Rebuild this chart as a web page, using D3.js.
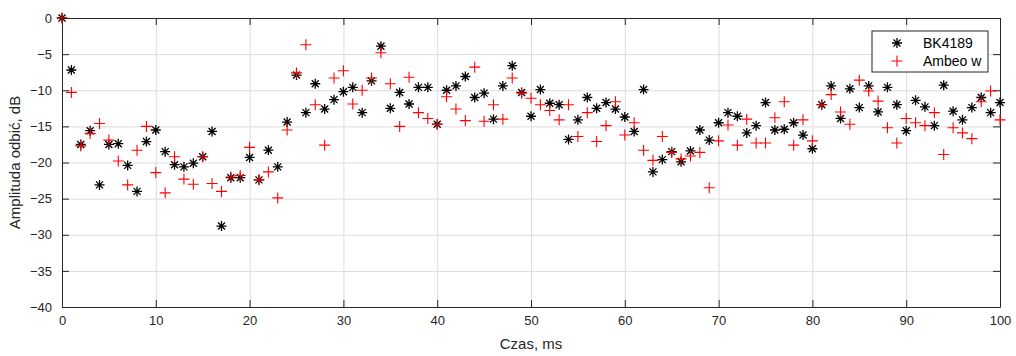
<!DOCTYPE html>
<meta charset="utf-8">
<html>
  <head>
    <title>amplituda odbic</title>
    <style>
      body { margin: 0; background: #fff; }
      .grid line { stroke: #dcdcdc; stroke-width: 1px; }
      .grid path { display: none; }
      .axis text { font: 13px "Liberation Sans", Arial, sans-serif; fill: #262626; }
      .axis path, .axis line { stroke: #262626; }
      .label { font: 15px "Liberation Sans", Arial, sans-serif; fill: #262626; }
      .legend text { font: 14px "Liberation Sans", Arial, sans-serif; fill: #000; }
    </style>
  </head>
  <body>
    <script src="https://d3js.org/d3.v7.min.js"></script>
    <script>

      // czas, ms
      var czas = d3.range(0, 101);

      var bk4189 = [0, -7.2, -17.5, -15.6, -23.1, -17.5, -17.4, -20.4, -24.0, -17.1,
        -15.5, -18.5, -20.3, -20.6, -20.1, -19.2, -15.7, -28.8, -22.1, -22.1,
        -19.3, -22.4, -18.3, -20.6, -14.4, -7.9, -13.1, -9.1, -12.6, -11.3,
        -10.2, -9.6, -13.1, -8.7, -3.9, -12.5, -10.3, -11.9, -9.6, -9.6,
        -14.7, -10.0, -9.4, -8.1, -11.0, -10.4, -14.0, -9.4, -6.6, -10.3,
        -13.6, -9.9, -11.8, -12.0, -16.8, -14.1, -11.0, -12.5, -11.7, -12.6,
        -13.7, -15.7, -9.9, -21.3, -19.6, -18.5, -19.9, -18.4, -15.5, -16.9,
        -14.5, -13.1, -13.6, -15.9, -14.9, -11.7, -15.5, -15.4, -14.5, -16.2,
        -18.1, -12.0, -9.4, -13.9, -9.8, -12.4, -9.4, -13.0, -9.6, -12.0,
        -15.6, -11.4, -12.3, -14.9, -9.3, -12.9, -14.1, -12.4, -11.0, -13.1,
        -11.7];

      var ambeo = [0, -10.3, -17.7, -16.0, -14.6, -16.9, -19.8, -23.1, -18.3, -15.0,
        -21.4, -24.2, -19.2, -22.3, -23.0, -19.2, -22.9, -24.0, -22.0, -21.8,
        -17.9, -22.4, -21.3, -24.9, -15.5, -7.6, -3.7, -12.0, -17.6, -8.3,
        -7.3, -11.9, -10.0, -8.3, -4.8, -9.1, -15.0, -8.2, -13.1, -13.9,
        -14.7, -10.9, -12.6, -14.2, -6.8, -14.3, -12.0, -14.0, -8.3, -10.4,
        -11.1, -12.0, -12.8, -14.1, -12.0, -16.4, -13.1, -17.1, -14.9, -11.6,
        -16.2, -14.5, -18.3, -19.7, -16.4, -18.6, -19.5, -19.1, -18.6, -23.5,
        -17.0, -14.8, -17.6, -14.0, -17.3, -17.3, -13.8, -11.6, -17.6, -14.1,
        -17.0, -12.0, -10.6, -13.0, -14.7, -8.6, -10.1, -11.5, -15.2, -17.3,
        -13.9, -14.5, -14.9, -13.1, -18.9, -15.2, -15.9, -16.7, -11.6, -10.1,
        -14.1];

      var seriesNames = ["BK4189", "Ambeo w"];
      var xTicks = d3.range(0, 101, 10);
      var yTicks = d3.range(-40, 1, 5);

      var margin = {top: 18, right: 16, bottom: 49, left: 62}
        , width = 1016 - margin.left - margin.right
        , height = 356 - margin.top - margin.bottom;

      var x = d3.scaleLinear().domain([0, 100]).range([0, width]);
      var y = d3.scaleLinear().domain([-40, 0]).range([height, 0]);

      var svg = d3.select("body").append("svg")
          .attr("width", 1016)
          .attr("height", 356)
        .append("g")
          .attr("transform", "translate(" + margin.left + "," + margin.top + ")");

      // siatka
      svg.append("g")
          .attr("class", "grid")
          .attr("transform", "translate(0," + height + ")")
          .call(d3.axisBottom(x).tickValues(xTicks).tickSize(-height).tickFormat(""));

      svg.append("g")
          .attr("class", "grid")
          .call(d3.axisLeft(y).tickValues(yTicks).tickSize(-width).tickFormat(""));

      // osie z ticks do wewnatrz
      svg.append("g")
          .attr("class", "axis")
          .attr("transform", "translate(0," + height + ")")
          .call(d3.axisBottom(x).tickValues(xTicks).tickSizeInner(-7).tickSizeOuter(0).tickPadding(9));

      svg.append("g")
          .attr("class", "axis")
          .call(d3.axisLeft(y).tickValues(yTicks).tickSizeInner(-7).tickSizeOuter(0).tickPadding(10));

      svg.append("g")
          .attr("class", "axis")
          .call(d3.axisTop(x).tickValues(xTicks).tickSizeInner(-7).tickSizeOuter(0).tickFormat(""));

      svg.append("g")
          .attr("class", "axis")
          .attr("transform", "translate(" + width + ",0)")
          .call(d3.axisRight(y).tickValues(yTicks).tickSizeInner(-7).tickSizeOuter(0).tickFormat(""));

      // gwiazdka jak w MATLAB: plus i x nalozone
      var star = "M-5,0H5M0,-5V5M-3.5,-3.5L3.5,3.5M-3.5,3.5L3.5,-3.5";
      var cross = d3.symbol().type(d3.symbolPlus).size(90);
      var plus = "M-5.5,0H5.5M0,-5.5V5.5";

      svg.selectAll(".bk")
          .data(czas)
        .enter().append("path")
          .attr("class", "bk")
          .attr("d", star)
          .attr("transform", function(d, i) { return "translate(" + x(d) + "," + y(bk4189[i]) + ")"; })
          .style("fill", "none")
          .style("stroke", "black")
          .style("stroke-width", 1.3);

      svg.selectAll(".am")
          .data(czas)
        .enter().append("path")
          .attr("class", "am")
          .attr("d", plus)
          .attr("transform", function(d, i) { return "translate(" + x(d) + "," + y(ambeo[i]) + ")"; })
          .style("fill", "none")
          .style("stroke", "red")
          .style("stroke-width", 1.1);

      // opisy osi
      svg.append("text")
          .attr("class", "label")
          .attr("text-anchor", "middle")
          .attr("x", width / 2)
          .attr("y", height + 42)
          .text("Czas, ms");

      svg.append("text")
          .attr("class", "label")
          .attr("text-anchor", "middle")
          .attr("transform", "translate(-42," + (height / 2) + ") rotate(-90)")
          .text("Amplituda odbić, dB");

      // legenda
      var legend = svg.append("g")
          .attr("class", "legend")
          .attr("transform", "translate(" + (width - 128) + ",13)");

      legend.append("rect")
          .attr("width", 116)
          .attr("height", 41)
          .style("fill", "white")
          .style("stroke", "#262626");

      var sym = [star, plus], col = ["black", "red"];
      seriesNames.forEach(function(name, i) {
        legend.append("path")
            .attr("d", sym[i])
            .attr("transform", "translate(25," + (12 + i * 18) + ")")
            .style("fill", "none")
            .style("stroke", col[i])
            .style("stroke-width", i == 0 ? 1.3 : 1.1);
        legend.append("text")
            .attr("x", 51)
            .attr("y", 17 + i * 18)
            .text(name);
      });

    </script>
  </body>
</html>
